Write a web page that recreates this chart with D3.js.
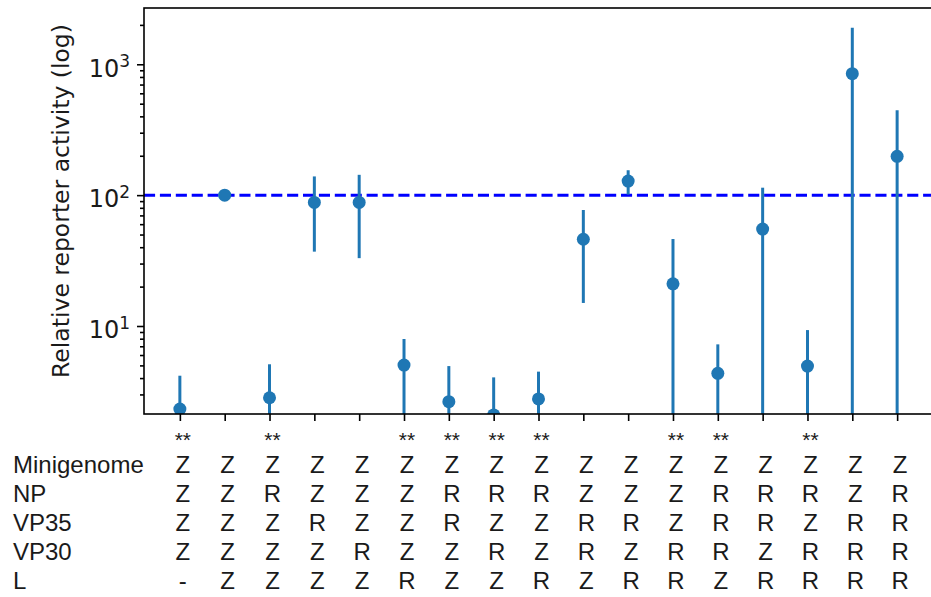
<!DOCTYPE html>
<html>
<head>
<meta charset="utf-8">
<script src="https://cdn.jsdelivr.net/npm/d3@7"></script>
<style>
  body { margin: 0; background: #fff; }
  svg { display: block; }
</style>
</head>
<body>
<div id="chart"></div>
<script>
// one column per construct combination
const columns = d3.range(17);

// relative reporter activity (mean) and symmetric error
const activity    = [2.32, 100, 2.83, 88, 88, 5.03, 2.64, 2.09, 2.77, 46, 128, 21, 4.35, 55, 4.94, 847, 198];
const activityErr = [1.85, 0, 2.27, 51, 55, 2.93, 2.30, 1.96, 1.71, 31, 27, 25.2, 2.89, 59, 4.37, 1058, 247];

const significance = ["**", "", "**", "", "", "**", "**", "**", "**", "", "", "**", "**", "", "**", "", ""];

const rowLabels  = ["Minigenome", "NP", "VP35", "VP30", "L"];
const minigenome = ["Z","Z","Z","Z","Z","Z","Z","Z","Z","Z","Z","Z","Z","Z","Z","Z","Z"];
const np         = ["Z","Z","R","Z","Z","Z","R","R","R","Z","Z","Z","R","R","R","Z","R"];
const vp35       = ["Z","Z","Z","R","Z","Z","R","Z","Z","R","R","Z","R","R","Z","R","R"];
const vp30       = ["Z","Z","Z","Z","R","Z","Z","R","Z","R","Z","R","R","Z","R","R","R"];
const lPoly      = ["-","Z","Z","Z","Z","R","Z","Z","R","Z","R","R","Z","R","R","R","R"];

const yTickValues = [10, 100, 1000];
const referenceLevel = 100;

const width = 931, height = 597;
const plotLeft = 144, plotRight = 933, plotTop = 8, plotBottom = 414;
const blue = "#1f77b4";

const svg = d3.select("#chart").append("svg")
    .attr("width", width)
    .attr("height", height);

const x = d3.scaleLinear().domain([-0.8, 16.8]).range([plotLeft, plotRight]);
const y = d3.scaleLog().domain([2.126, 2692]).range([plotBottom, plotTop]);

svg.append("clipPath").attr("id", "plot-clip")
  .append("rect")
    .attr("x", plotLeft).attr("y", plotTop)
    .attr("width", plotRight - plotLeft).attr("height", plotBottom - plotTop);

// minor y ticks
const minorTicks = [];
[1, 10, 100, 1000].forEach(p => {
  for (let m = 2; m <= 9; m++) {
    const v = m * p;
    if (v >= y.domain()[0] && v <= y.domain()[1]) minorTicks.push(v);
  }
});

const yMinor = svg.append("g")
    .attr("transform", `translate(${plotLeft},0)`)
    .call(d3.axisLeft(y).tickValues(minorTicks).tickSize(4).tickFormat(""));
yMinor.select(".domain").remove();
yMinor.selectAll(".tick line").attr("stroke", "#000").attr("stroke-width", 1.6);

const yAxis = svg.append("g")
    .attr("transform", `translate(${plotLeft},0)`)
    .call(d3.axisLeft(y).tickValues(yTickValues).tickSize(7).tickPadding(7).tickFormat(""));
yAxis.select(".domain").remove();
yAxis.selectAll(".tick line").attr("stroke", "#000").attr("stroke-width", 1.6);
yAxis.selectAll(".tick text")
    .attr("font-family", "DejaVu Sans")
    .attr("font-size", 24)
    .attr("fill", "#1a1a1a")
    .attr("dy", "0.49em")
    .each(function(d) {
      const t = d3.select(this);
      t.append("tspan").text("10");
      t.append("tspan").attr("dy", -9.3).attr("font-size", 17).text(Math.round(Math.log10(d)));
    });

const xAxis = svg.append("g")
    .attr("transform", `translate(0,${plotBottom})`)
    .call(d3.axisBottom(x).tickValues(columns).tickSize(7).tickFormat(""));
xAxis.select(".domain").remove();
xAxis.selectAll(".tick line").attr("stroke", "#000").attr("stroke-width", 1.6);

const plot = svg.append("g").attr("clip-path", "url(#plot-clip)");

// reference line
plot.append("line")
    .attr("x1", plotLeft).attr("x2", plotRight)
    .attr("y1", y(referenceLevel)).attr("y2", y(referenceLevel))
    .attr("stroke", "#0000ff")
    .attr("stroke-width", 3)
    .attr("stroke-dasharray", "11.1,4.8");

// error bars
plot.append("g")
  .selectAll("line")
  .data(columns)
  .join("line")
    .attr("x1", i => x(i)).attr("x2", i => x(i))
    .attr("y1", i => y(activity[i] + activityErr[i]))
    .attr("y2", i => {
      const lo = activity[i] - activityErr[i];
      return lo > y.domain()[0] ? y(lo) : plotBottom + 5;
    })
    .attr("stroke", blue)
    .attr("stroke-width", 3);

plot.append("g")
  .selectAll("circle")
  .data(columns)
  .join("circle")
    .attr("cx", i => x(i))
    .attr("cy", i => y(activity[i]))
    .attr("r", 6.5)
    .attr("fill", blue);

// frame
svg.append("rect")
    .attr("x", plotLeft).attr("y", plotTop)
    .attr("width", plotRight - plotLeft).attr("height", plotBottom - plotTop)
    .attr("fill", "none")
    .attr("stroke", "#000")
    .attr("stroke-width", 1.6);

svg.append("text")
    .attr("transform", `translate(69,201) rotate(-90)`)
    .attr("text-anchor", "middle")
    .attr("font-family", "DejaVu Sans")
    .attr("font-size", 23.5)
    .attr("fill", "#1a1a1a")
    .text("Relative reporter activity (log)");

// table under the axis
const table = svg.append("g")
    .attr("font-family", "Liberation Sans, Arial, sans-serif")
    .attr("font-size", 24)
    .attr("fill", "#1a1a1a");

const cellShift = 3;

table.append("g")
  .selectAll("text")
  .data(columns)
  .join("text")
    .attr("x", i => x(i) + cellShift)
    .attr("y", 447)
    .attr("font-size", 21)
    .attr("text-anchor", "middle")
    .text(i => significance[i]);

const rows = [minigenome, np, vp35, vp30, lPoly];
rows.forEach((row, r) => {
  const rowY = 473 + r * 29;
  table.append("text")
      .attr("x", 13)
      .attr("y", rowY)
      .text(rowLabels[r]);
  table.append("g")
    .selectAll("text")
    .data(columns)
    .join("text")
      .attr("x", i => x(i) + cellShift)
      .attr("y", rowY)
      .attr("text-anchor", "middle")
      .text(i => row[i]);
});
</script>
</body>
</html>
